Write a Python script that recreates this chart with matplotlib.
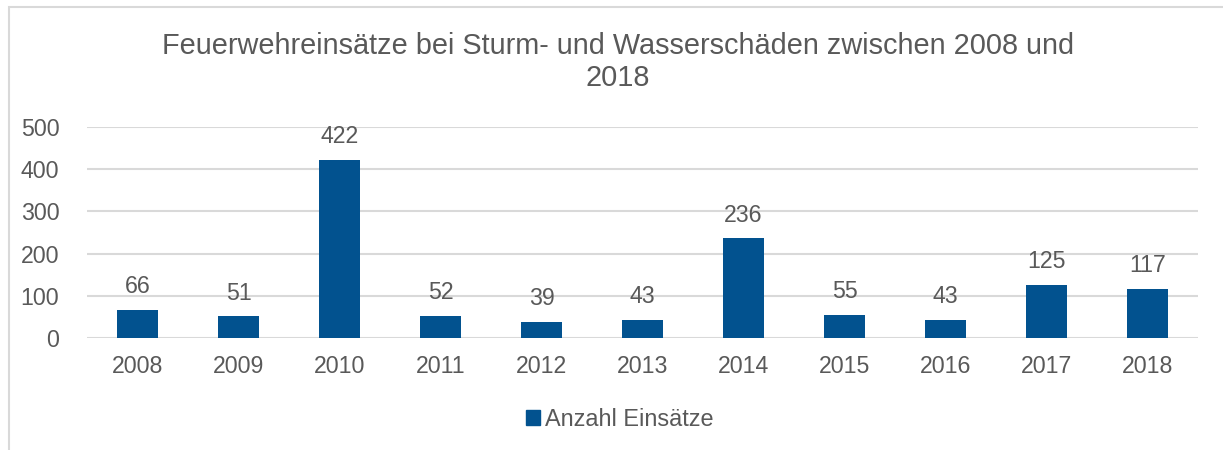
import matplotlib
matplotlib.use("Agg")
import matplotlib.pyplot as plt
from matplotlib.patches import Rectangle, Patch

years = ["2008", "2009", "2010", "2011", "2012", "2013", "2014", "2015", "2016", "2017", "2018"]
einsaetze = [66, 51, 422, 52, 39, 43, 236, 55, 43, 125, 117]
yticks = [0, 100, 200, 300, 400, 500]
title = "Feuerwehreinsätze bei Sturm- und Wasserschäden zwischen 2008 und\n2018"
series_name = "Anzahl Einsätze"

W, H = 1223, 450
BAR = "#02528F"
TXT = "#595959"
GRID = "#D9D9D9"

plt.rcParams['font.family'] = ['Liberation Sans', 'DejaVu Sans']
fig = plt.figure(figsize=(W / 100, H / 100), dpi=100)
fig.patch.set_facecolor("white")

# chart border (cropped at right and bottom)
fig.add_artist(Rectangle((9 / W, -0.1), 1.2, 1 - 7 / H + 0.1, transform=fig.transFigure,
                         fill=False, edgecolor=GRID, linewidth=1.5))

ax = fig.add_axes([87 / W, 112 / H, (1198 - 87) / W, (338 - 127) / H])
x = list(range(len(years)))
bars = ax.bar(x, einsaetze, width=0.4, color=BAR, zorder=3)
ax.set_xlim(-0.5, len(years) - 0.5)
ax.set_ylim(0, 500)
ax.set_yticks(yticks)
ax.set_xticks(x)
ax.set_xticklabels(years)
ax.tick_params(axis='both', length=0, labelsize=16.7, colors=TXT)
ax.tick_params(axis='y', pad=20)
ax.tick_params(axis='x', pad=12)
for s in ax.spines.values():
    s.set_visible(False)
ax.grid(axis='y', color=GRID, linewidth=1.5, zorder=0)
ax.set_axisbelow(True)

for xi, v in zip(x, einsaetze):
    ax.annotate(str(v), (xi, v), xytext=(0, 8.5), textcoords='offset points',
                ha='center', va='bottom', fontsize=16.7, color=TXT)

fig.text(618 / W, 1 - 62 / H, title, ha='center', va='center', fontsize=20.8,
         color=TXT, linespacing=1.22)

leg = fig.legend(handles=[Patch(color=BAR, label=series_name)], loc='center',
                 bbox_to_anchor=(620 / W, 1 - 419 / H), frameon=False,
                 fontsize=16.9, handlelength=0.6, handleheight=0.6, handletextpad=0.2)
for t in leg.get_texts():
    t.set_color(TXT)

fig.savefig("out.png", dpi=100, facecolor="white")
